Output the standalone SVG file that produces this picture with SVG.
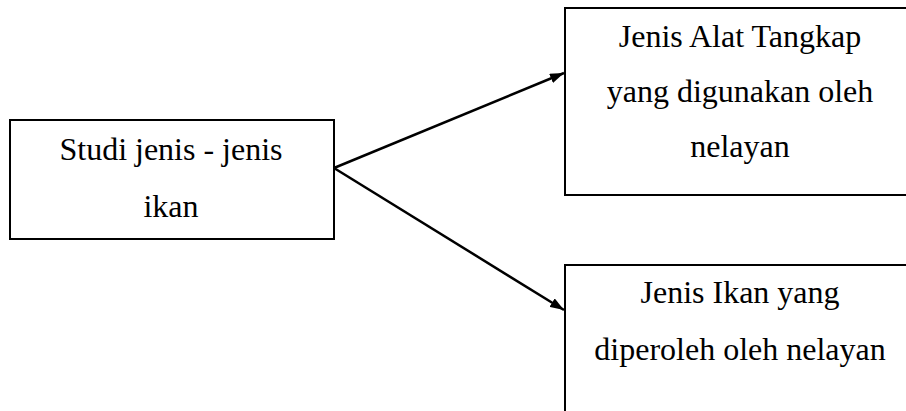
<svg xmlns="http://www.w3.org/2000/svg" width="906" height="411" viewBox="0 0 906 411">
<style>
.box{fill:#fff;stroke:#000;stroke-width:2}
.t{font-family:"Liberation Serif","Times New Roman",serif;font-size:32px;fill:#000;text-anchor:middle}
.c{stroke:#000;stroke-width:2.5;fill:none}
</style>
<defs>
<marker id="ah" viewBox="0 0 14 10" refX="14" refY="5" markerWidth="14" markerHeight="10" markerUnits="userSpaceOnUse" orient="auto">
<path d="M0,0 L14,5 L0,10 z" fill="#000"/>
</marker>
</defs>
<rect width="906" height="411" fill="#fff"/>
<g id="node-studi">
<rect class="box" x="10" y="120" width="324" height="119"/>
<text class="t" x="171" y="160">Studi jenis - jenis</text>
<text class="t" x="171" y="217">ikan</text>
</g>
<g id="node-alat">
<rect class="box" x="565" y="8" width="350" height="187"/>
<text class="t" x="740" y="47">Jenis Alat Tangkap</text>
<text class="t" x="740" y="102">yang digunakan oleh</text>
<text class="t" x="740" y="157">nelayan</text>
</g>
<g id="node-ikan">
<rect class="box" x="565" y="265" width="350" height="160"/>
<text class="t" x="740" y="303">Jenis Ikan yang</text>
<text class="t" x="740" y="360">diperoleh oleh nelayan</text>
</g>
<g id="connectors">
<line class="c" x1="334" y1="168" x2="564" y2="73" marker-end="url(#ah)"/>
<line class="c" x1="334" y1="168" x2="564" y2="310" marker-end="url(#ah)"/>
</g>
</svg>
